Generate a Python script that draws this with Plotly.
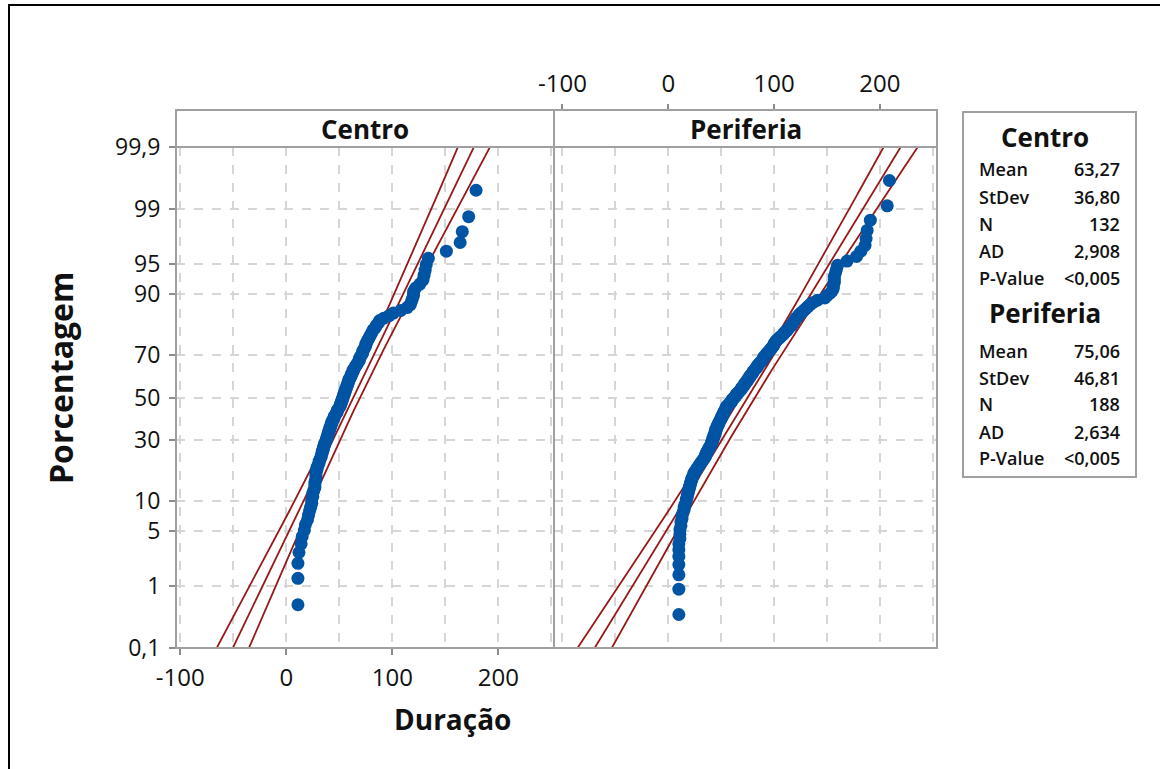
import math
from statistics import NormalDist
import plotly.graph_objects as go

# ---------------- data ----------------
centro = [11, 11, 11, 12, 14, 15, 17, 18, 20, 21,
          22, 23, 24, 24, 25, 25, 26, 27, 27, 27,
          28, 28, 28, 28, 29, 29, 30, 31, 31, 32,
          33, 33, 34, 34, 35, 35, 36, 36, 37, 38,
          38, 39, 39, 40, 40, 41, 41, 42, 42, 43,
          43, 44, 45, 45, 46, 47, 48, 48, 49, 50,
          51, 51, 52, 52, 53, 53, 54, 54, 55, 55,
          56, 56, 57, 57, 58, 58, 59, 59, 60, 61,
          61, 62, 63, 63, 64, 65, 66, 67, 68, 69,
          69, 70, 71, 72, 72, 73, 74, 75, 75, 76,
          77, 78, 79, 80, 81, 82, 84, 85, 87, 88,
          92, 97, 101, 108, 114, 117, 118, 119, 120, 120,
          122, 126, 129, 130, 131, 132, 134, 151, 164, 166,
          172, 179]

periferia = [10, 10, 10, 10, 10, 10, 10, 11,
             11, 11, 12, 12,
             13, 13, 14, 15, 15, 16,
             17, 17, 18, 18, 19, 19,
             20, 20, 21, 21, 22, 22, 23, 24, 24, 25, 26,
             27, 28, 29, 30, 31, 32, 33,
             34, 35, 35, 36, 36, 37, 38, 38, 39, 40,
             40, 41, 41, 42, 42, 42, 43, 43, 44, 44, 44, 45, 45, 45, 46, 46,
             47, 47, 48, 48, 49, 49, 50, 50, 51, 51, 52, 52, 53, 53, 54, 54, 55, 55,
             56, 57, 58, 59, 60, 60, 61, 62, 63, 64, 64, 65, 66, 67, 68,
             69, 69, 70, 71, 72, 72, 73, 74, 75, 75, 76, 77, 77,
             78, 79, 80, 80, 81, 82, 83, 84, 84, 85, 86,
             87, 88, 89, 90, 90, 91, 92, 93, 94, 95, 96, 97, 98, 99, 100, 100, 101, 102, 103,
             105, 106, 108, 109, 110, 112, 113, 114, 116,
             117, 118, 119, 120, 121, 123, 124, 126, 128,
             130, 132, 134, 137, 141,
             148, 150, 153, 155, 156,
             156, 157, 157, 157, 158, 159,
             160, 169, 178,
             182, 186, 187, 188, 191,
             207, 209]

panel_names = ["Centro", "Periferia"]
means = [63.27, 75.06]
stdevs = [36.80, 46.81]

stat_labels = ["Mean", "StDev", "N", "AD", "P-Value"]
centro_stats = ["63,27", "36,80", "132", "2,908", "<0,005"]
periferia_stats = ["75,06", "46,81", "188", "2,634", "<0,005"]

pct_ticks = [0.1, 1, 5, 10, 30, 50, 70, 90, 95, 99, 99.9]
pct_labels = ["0,1", "1", "5", "10", "30", "50", "70", "90", "95", "99", "99,9"]

x_ticks = [-100, 0, 100, 200]
x_labels = ["-100", "0", "100", "200"]

# ---------------- helpers ----------------
W, H = 1160, 769


def fx(px):
    return px / W


def fy(py):
    return 1 - py / H


nd = NormalDist()
z_ticks = [nd.inv_cdf(p / 100) for p in pct_ticks]
zmin, zmax = nd.inv_cdf(0.001), nd.inv_cdf(0.999)


def plot_pos(n):
    return [nd.inv_cdf((i - 0.3) / (n + 0.4)) for i in range(1, n + 1)]


zline = [-3.4 + k * 0.05 for k in range(137)]

BLUE = "#0054a4"
RED = "#981818"
GRID = "#d6d6d6"
FRAME = "#a0a0a0"
FONT = "Open Sans"

fig = go.Figure()

datasets = [centro, periferia]
axes = [("x", "y"), ("x2", "y2")]
for k, data in enumerate(datasets):
    xs = sorted(data)
    n = len(xs)
    m, s = means[k], stdevs[k]
    fit = [m + s * z for z in zline]
    se = [s * math.sqrt(1 / n + z * z / (2 * n)) for z in zline]
    lo = [f - 1.96 * e for f, e in zip(fit, se)]
    hi = [f + 1.96 * e for f, e in zip(fit, se)]
    xa, ya = axes[k]
    for arr in (lo, fit, hi):
        fig.add_trace(go.Scatter(x=arr, y=zline, mode="lines",
                                 line=dict(color=RED, width=1.8),
                                 xaxis=xa, yaxis=ya, showlegend=False,
                                 hoverinfo="skip"))
    fig.add_trace(go.Scatter(x=xs, y=plot_pos(n), mode="markers",
                             marker=dict(color=BLUE, size=13, line=dict(width=0)),
                             xaxis=xa, yaxis=ya, showlegend=False))

common_x = dict(
    tickvals=x_ticks, ticktext=x_labels, ticks="outside", ticklen=6,
    tickwidth=1.5, tickcolor="#8c8c8c", showgrid=True, gridcolor=GRID,
    griddash="dash", gridwidth=2, zeroline=False, showline=False,
    automargin=False,
    tickfont=dict(family=FONT, size=24, color="#111"),
    minor=dict(dtick=50, tick0=0, showgrid=True, gridcolor=GRID,
               griddash="dash", gridwidth=2, ticks=""),
)

y_dom = [fy(648), fy(147)]
common_y = dict(
    range=[zmin, zmax], domain=y_dom, tickvals=z_ticks, ticktext=pct_labels,
    showgrid=True, gridcolor=GRID, griddash="dash", gridwidth=2,
    zeroline=False, showline=False, automargin=False,
)

fig.update_layout(
    width=W, height=H, autosize=False,
    margin=dict(l=0, r=0, t=0, b=0, pad=0),
    paper_bgcolor="white", plot_bgcolor="white",
    font=dict(family=FONT, color="#111"),
    xaxis=dict(domain=[fx(176), fx(554)], range=[-104, 252.5], anchor="y",
               side="bottom", ticklabelstandoff=2, **common_x),
    xaxis2=dict(domain=[fx(554), fx(937)], range=[-108, 254], anchor="free",
                position=fy(110), side="top",
                ticklabelstandoff=2, **common_x),
    yaxis=dict(anchor="x", ticks="outside", ticklen=6, tickwidth=1.5,
               tickcolor="#8c8c8c", ticklabelstandoff=4,
               tickfont=dict(family=FONT, size=23, color="#111"), **common_y),
    yaxis2=dict(anchor="x2", matches="y", showticklabels=False, ticks="",
                **common_y),
)

shapes = []
# outer black frame
shapes.append(dict(type="rect", xref="paper", yref="paper",
                   x0=fx(9), x1=1.02, y0=-0.02, y1=fy(5),
                   line=dict(color="black", width=2)))
# panel frames and strips
for x0, x1 in [(176, 554), (554, 937)]:
    shapes.append(dict(type="rect", xref="paper", yref="paper",
                       x0=fx(x0), x1=fx(x1), y0=fy(648), y1=fy(147),
                       line=dict(color=FRAME, width=2), layer="above"))
    shapes.append(dict(type="rect", xref="paper", yref="paper",
                       x0=fx(x0), x1=fx(x1), y0=fy(147), y1=fy(110),
                       line=dict(color=FRAME, width=2), layer="above"))
# stats box
shapes.append(dict(type="rect", xref="paper", yref="paper",
                   x0=fx(963), x1=fx(1136), y0=fy(477), y1=fy(112),
                   line=dict(color=FRAME, width=2)))
fig.update_layout(shapes=shapes)

ann = []
for name, cx in zip(panel_names, [365, 745.5]):
    ann.append(dict(text="<b>%s</b>" % name, x=fx(cx), y=fy(129),
                    xref="paper", yref="paper", showarrow=False,
                    font=dict(family=FONT, size=26, color="#111"),
                    xanchor="center", yanchor="middle"))
ann.append(dict(text="<b>Duração</b>", x=fx(452), y=fy(719), xref="paper",
                yref="paper", showarrow=False,
                font=dict(family=FONT, size=28, color="#111"),
                xanchor="center", yanchor="middle"))
ann.append(dict(text="<b>Porcentagem</b>", x=fx(60), y=fy(378), xref="paper",
                yref="paper", showarrow=False, textangle=-90,
                font=dict(family=FONT, size=32, color="#111"),
                xanchor="center", yanchor="middle"))

title_ys = [137, 313]
row_ys = [[169, 197, 224, 251, 278], [351, 378, 404, 432, 458]]
for g, (name, vals) in enumerate(zip(panel_names, [centro_stats, periferia_stats])):
    ann.append(dict(text="<b>%s</b>" % name, x=fx(1045), y=fy(title_ys[g]),
                    xref="paper", yref="paper", showarrow=False,
                    font=dict(family=FONT, size=26, color="#111"),
                    xanchor="center", yanchor="middle"))
    for lab, val, ry in zip(stat_labels, vals, row_ys[g]):
        ann.append(dict(text=lab, x=fx(977), y=fy(ry), xref="paper",
                        yref="paper", showarrow=False,
                        font=dict(family=FONT, size=18, color="#111", weight=600),
                        xanchor="left", yanchor="middle"))
        ann.append(dict(text=val, x=fx(1122), y=fy(ry), xref="paper",
                        yref="paper", showarrow=False,
                        font=dict(family=FONT, size=18, color="#111", weight=600),
                        xanchor="right", yanchor="middle"))
fig.update_layout(annotations=ann)

fig.write_html("out.html")
